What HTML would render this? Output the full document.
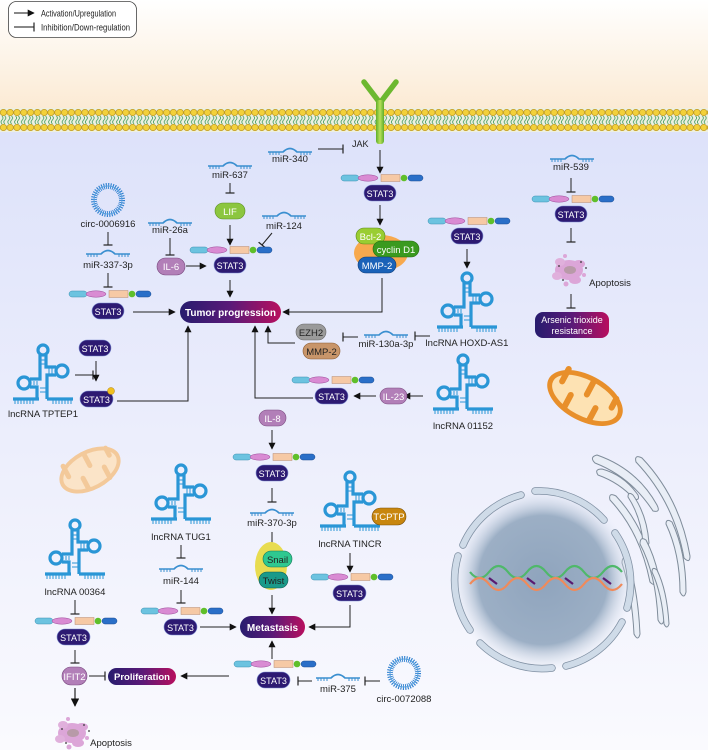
<!DOCTYPE html>
<html><head><meta charset="utf-8"><style>
html,body{margin:0;padding:0;width:708px;height:750px;overflow:hidden;background:#fff}
svg{display:block}
text{font-family:"Liberation Sans",sans-serif;}
</style></head><body>
<svg width="708" height="750" viewBox="0 0 708 750" xmlns="http://www.w3.org/2000/svg">
<defs>
<linearGradient id="bgTop" x1="0" y1="0" x2="0" y2="1"><stop offset="0" stop-color="#ffffff"/><stop offset="1" stop-color="#fbead3"/></linearGradient>
<linearGradient id="bgBot" x1="0" y1="0" x2="0" y2="1"><stop offset="0" stop-color="#dde2fa"/><stop offset="0.5" stop-color="#eceefc"/><stop offset="1" stop-color="#fafafe"/></linearGradient>
<linearGradient id="pg" x1="0" y1="0" x2="1" y2="0"><stop offset="0" stop-color="#271c6e"/><stop offset="0.5" stop-color="#5a1a78"/><stop offset="1" stop-color="#b80f5e"/></linearGradient>
<radialGradient id="nuc" cx="0.5" cy="0.5" r="0.5"><stop offset="0" stop-color="#8fa4bd"/><stop offset="0.7" stop-color="#9cafc5"/><stop offset="1" stop-color="#e6ebf6" stop-opacity="0"/></radialGradient>
<linearGradient id="rec" x1="0" y1="0" x2="1" y2="0"><stop offset="0" stop-color="#5fae2a"/><stop offset="0.5" stop-color="#b8e05a"/><stop offset="1" stop-color="#5fae2a"/></linearGradient>
<pattern id="mem" x="0" y="108" width="6.8" height="24" patternUnits="userSpaceOnUse">
<path d="M2,8 q2,2 0,4 q-2,2 0,4 M4.8,8 q2,2 0,4 q-2,2 0,4" fill="none" stroke="#3d9a5a" stroke-width="0.8"/>
<circle cx="3.4" cy="4.5" r="3.2" fill="#f3d03a" stroke="#b8921a" stroke-width="0.6"/>
<circle cx="3.4" cy="19.5" r="3.2" fill="#f3d03a" stroke="#b8921a" stroke-width="0.6"/>
</pattern>
<marker id="ar" viewBox="0 0 10 10" refX="9" refY="5" markerWidth="7" markerHeight="7" orient="auto"><path d="M0,0 L10,5 L0,10 z" fill="#111"/></marker>
<marker id="inh" viewBox="0 0 4 12" refX="2" refY="6" markerWidth="4" markerHeight="9" orient="auto" markerUnits="userSpaceOnUse"><path d="M2,0 V12" stroke="#222" stroke-width="1.6"/></marker>
<symbol id="rna" viewBox="-32 -2 64 62" overflow="visible">
<g fill="none" stroke="#2a96d6" stroke-width="3.2">
<circle cx="0" cy="4" r="5"/>
<path d="M-3,9 V33 H-13 M-13,41 H-6 V53 M3,9 V21 H13 M13,29 H4 V53"/>
<circle cx="-19" cy="37" r="6"/><circle cx="19" cy="25" r="6"/>
<path d="M-30,53 H-4 M4,53 H30"/>
</g>
<g stroke="#2a96d6" stroke-width="1"><path d="M-28,54 v4 M-25,54 v4 M-22,54 v4 M-19,54 v4 M-16,54 v4 M-13,54 v4 M-10,54 v4 M10,54 v4 M13,54 v4 M16,54 v4 M19,54 v4 M22,54 v4 M25,54 v4 M28,54 v4 M-3,14 h6 M-3,18 h6 M-9,35 v4 M-6,35 v4 M9,22 v6 M6,22 v6 M-3,42 h6 M-3,46 h6"/></g>
</symbol>
<symbol id="mir" viewBox="0 -3 44 10" overflow="visible">
<path d="M0,3 H15 Q22,-4 29,3 H44" fill="none" stroke="#3a8fd0" stroke-width="1.6"/>
<path d="M2,3 v3 M5,3 v3 M8,3 v3 M11,3 v3 M33,3 v3 M36,3 v3 M39,3 v3 M42,3 v3" stroke="#3a8fd0" stroke-width="1"/>
</symbol>
<symbol id="chain" viewBox="0 0 80 8" overflow="visible">
<rect x="0" y="1" width="18" height="6" rx="3" fill="#6cc3e0" stroke="#3a8fb0" stroke-width="0.5"/>
<ellipse cx="27" cy="4" rx="10" ry="3.2" fill="#d98bd3" stroke="#9a4a98" stroke-width="0.5"/>
<rect x="40" y="0.5" width="19" height="7" fill="#f6c9a5" stroke="#b58a70" stroke-width="0.5"/>
<circle cx="63" cy="4" r="3.3" fill="#5fbf2a"/>
<rect x="67" y="1" width="15" height="6" rx="3" fill="#2a6fc8" stroke="#1a4a90" stroke-width="0.5"/>
</symbol>
<symbol id="circ" viewBox="-18 -18 36 36" overflow="visible">
<circle r="14" fill="none" stroke="#2e7fcf" stroke-width="6" stroke-dasharray="1 1.2"/>
<circle r="14" fill="none" stroke="#5aa3e0" stroke-width="1"/>
</symbol>
<g id="apo">
<ellipse cx="0" cy="0" rx="14" ry="10" fill="#dca6d8"/>
<ellipse cx="-9" cy="-8" rx="5" ry="4" fill="#e0b0dc"/><ellipse cx="10" cy="-6" rx="6" ry="4" fill="#dca6d8"/>
<ellipse cx="-12" cy="6" rx="5" ry="4" fill="#e0b0dc"/><ellipse cx="6" cy="10" rx="6" ry="4" fill="#dca6d8"/>
<ellipse cx="1" cy="0" rx="6" ry="4" fill="#b89aa8"/>
<circle cx="-4" cy="-14" r="2" fill="#dca6d8"/><circle cx="15" cy="5" r="2" fill="#dca6d8"/><circle cx="-3" cy="14" r="2.5" fill="#dca6d8"/>
<circle cx="-10" cy="-4" r="0.9" fill="#333"/><circle cx="12" cy="-8" r="0.9" fill="#333"/><circle cx="-6" cy="10" r="0.9" fill="#333"/><circle cx="17" cy="-2" r="0.9" fill="#333"/>
</g>
</defs>

<rect x="0" y="0" width="708" height="110" fill="url(#bgTop)"/>
<rect x="0" y="130" width="708" height="620" fill="url(#bgBot)"/>
<rect x="0" y="108" width="708" height="24" fill="#eef0e0"/>
<rect x="0" y="108" width="708" height="24" fill="url(#mem)"/>

<!-- legend -->
<rect x="8.5" y="1.5" width="128" height="36" rx="8" fill="#fff" stroke="#444" stroke-width="0.8"/>
<line x1="14" y1="13" x2="34" y2="13" stroke="#111" stroke-width="1" marker-end="url(#ar)"/>
<line x1="14" y1="27" x2="34" y2="27" stroke="#111" stroke-width="1" marker-end="url(#inh)"/>
<text x="41" y="16.5" font-size="9.5" fill="#222" textLength="75" lengthAdjust="spacingAndGlyphs">Activation/Upregulation</text>
<text x="41" y="30.5" font-size="9.5" fill="#222" textLength="89" lengthAdjust="spacingAndGlyphs">Inhibition/Down-regulation</text>

<!-- receptor -->
<path d="M364,82 L380,103 L396,82" fill="none" stroke="#6cb830" stroke-width="5.5" stroke-linejoin="round" stroke-linecap="round"/>
<rect x="376" y="100" width="8" height="44" rx="3" fill="url(#rec)"/>
<text x="352" y="147" font-size="9" fill="#222">JAK</text>

<g font-size="9.5" fill="#222" text-anchor="middle">
<!-- miR-340 -->
<use href="#mir" x="268" y="146" width="44" height="10"/>
<text x="290" y="162">miR-340</text>
<line x1="318" y1="149" x2="343" y2="149" stroke="#222" stroke-width="1" marker-end="url(#inh)"/>
<line x1="380" y1="150" x2="380" y2="173" stroke="#222" stroke-width="1" marker-end="url(#ar)"/>
<use href="#chain" x="341" y="174" width="80" height="8"/>

<!-- miR-637 / LIF -->
<use href="#mir" x="208" y="160" width="44" height="10"/>
<text x="230" y="178">miR-637</text>
<line x1="230" y1="183" x2="230" y2="193" stroke="#222" stroke-width="1" marker-end="url(#inh)"/>
<rect x="215" y="203" width="30" height="16" rx="8" fill="#8cc63f" stroke="#5a9020" stroke-width="0.6"/>
<text x="230" y="215" fill="#fff">LIF</text>
<line x1="230" y1="225" x2="230" y2="245" stroke="#222" stroke-width="1" marker-end="url(#ar)"/>
<use href="#mir" x="262" y="210" width="44" height="10"/>
<text x="284" y="229">miR-124</text>
<line x1="272" y1="233" x2="262" y2="245" stroke="#222" stroke-width="1" marker-end="url(#inh)"/>
<use href="#chain" x="190" y="246" width="80" height="8"/>
<rect x="214" y="257" width="32" height="16" rx="8" fill="#2d1a72" stroke="#7a8ad0" stroke-width="0.6"/>
<text x="230" y="269" fill="#fff" font-size="9">STAT3</text>
<line x1="230" y1="280" x2="230" y2="297" stroke="#222" stroke-width="1" marker-end="url(#ar)"/>

<!-- miR-26a / IL-6 -->
<use href="#mir" x="148" y="217" width="44" height="10"/>
<text x="170" y="233">miR-26a</text>
<line x1="170" y1="238" x2="170" y2="255" stroke="#222" stroke-width="1" marker-end="url(#inh)"/>
<rect x="157" y="258" width="28" height="17" rx="8.5" fill="#b27fb8" stroke="#7a4a80" stroke-width="0.6"/>
<text x="171" y="270" fill="#fff">IL-6</text>
<line x1="186" y1="266" x2="206" y2="266" stroke="#222" stroke-width="1" marker-end="url(#ar)"/>

<!-- circ-0006916 -->
<use href="#circ" x="90" y="182" width="36" height="36"/>
<text x="108" y="227">circ-0006916</text>
<line x1="108" y1="232" x2="108" y2="245" stroke="#222" stroke-width="1" marker-end="url(#inh)"/>
<use href="#mir" x="86" y="248" width="44" height="10"/>
<text x="108" y="268">miR-337-3p</text>
<line x1="108" y1="273" x2="108" y2="287" stroke="#222" stroke-width="1" marker-end="url(#inh)"/>
<use href="#chain" x="69" y="290" width="80" height="8"/>
<rect x="92" y="303" width="32" height="16" rx="8" fill="#2d1a72" stroke="#7a8ad0" stroke-width="0.6"/>
<text x="108" y="315" fill="#fff" font-size="9">STAT3</text>
<line x1="133" y1="312" x2="175" y2="312" stroke="#222" stroke-width="1" marker-end="url(#ar)"/>

<!-- Tumor progression -->
<rect x="180" y="301" width="101" height="22" rx="11" fill="url(#pg)"/>
<text x="230.5" y="316" fill="#fff" font-weight="bold" font-size="10">Tumor progression</text>

<!-- JAK STAT3 branch -->
<rect x="364" y="185" width="32" height="16" rx="8" fill="#2d1a72" stroke="#7a8ad0" stroke-width="0.6"/>
<text x="380" y="197" fill="#fff" font-size="9">STAT3</text>
<line x1="380" y1="205" x2="380" y2="225" stroke="#222" stroke-width="1" marker-end="url(#ar)"/>
<ellipse cx="381" cy="253" rx="27" ry="18" fill="#f7a94e"/>
<rect x="356" y="228" width="29" height="16" rx="8" fill="#9acd32" stroke="#5a8a18" stroke-width="0.6"/>
<text x="370.5" y="240" fill="#fff">Bcl-2</text>
<rect x="373" y="241" width="46" height="16" rx="8" fill="#3a9a1f" stroke="#256a10" stroke-width="0.6"/>
<text x="396" y="253" fill="#fff">cyclin D1</text>
<rect x="358" y="257" width="38" height="16" rx="8" fill="#1a62b8" stroke="#0e3c78" stroke-width="0.6"/>
<text x="377" y="269" fill="#fff">MMP-2</text>
<polyline points="382,278 382,312 283,312" fill="none" stroke="#222" stroke-width="1" marker-end="url(#ar)"/>

<!-- HOXD-AS1 -->
<use href="#chain" x="428" y="217" width="80" height="8"/>
<rect x="451" y="228" width="32" height="16" rx="8" fill="#2d1a72" stroke="#7a8ad0" stroke-width="0.6"/>
<text x="467" y="240" fill="#fff" font-size="9">STAT3</text>
<line x1="467" y1="249" x2="467" y2="268" stroke="#222" stroke-width="1" marker-end="url(#ar)"/>
<use href="#rna" x="435" y="272" width="64" height="62"/>
<text x="467" y="346">lncRNA HOXD-AS1</text>
<line x1="430" y1="336" x2="415" y2="336" stroke="#222" stroke-width="1" marker-end="url(#inh)"/>
<use href="#mir" x="364" y="329" width="44" height="10"/>
<text x="386" y="347">miR-130a-3p</text>
<line x1="358" y1="337" x2="343" y2="337" stroke="#222" stroke-width="1" marker-end="url(#inh)"/>
<rect x="296" y="324" width="30" height="16" rx="8" fill="#9a9a9a" stroke="#666" stroke-width="0.6"/>
<text x="311" y="336" fill="#222">EZH2</text>
<rect x="303" y="343" width="37" height="16" rx="8" fill="#c8956a" stroke="#8a5a30" stroke-width="0.6"/>
<text x="321.5" y="355" fill="#222">MMP-2</text>
<polyline points="295,343 268,343 268,326" fill="none" stroke="#222" stroke-width="1" marker-end="url(#ar)"/>

<!-- miR-539 -->
<use href="#mir" x="550" y="153" width="44" height="10"/>
<text x="571" y="170">miR-539</text>
<line x1="571" y1="178" x2="571" y2="192" stroke="#222" stroke-width="1" marker-end="url(#inh)"/>
<use href="#chain" x="532" y="195" width="80" height="8"/>
<rect x="555" y="206" width="32" height="16" rx="8" fill="#2d1a72" stroke="#7a8ad0" stroke-width="0.6"/>
<text x="571" y="218" fill="#fff" font-size="9">STAT3</text>
<line x1="571" y1="228" x2="571" y2="242" stroke="#222" stroke-width="1" marker-end="url(#inh)"/>
<use href="#apo" x="569" y="270"/>
<text x="610" y="286">Apoptosis</text>
<line x1="571" y1="294" x2="571" y2="308" stroke="#222" stroke-width="1" marker-end="url(#inh)"/>
<rect x="535" y="312" width="74" height="26" rx="8" fill="url(#pg)"/>
<text x="572" y="323" fill="#fff" font-size="9">Arsenic trioxide</text>
<text x="572" y="334" fill="#fff" font-size="9">resistance</text>

<!-- mitochondria -->
<g transform="translate(585,398) rotate(28)">
<ellipse rx="41" ry="23" fill="#e88f2a"/>
<ellipse rx="36" ry="18" fill="#fde2b3"/>
<path d="M-28,-18 v14 M-14,18 v-14 M0,-18 v14 M14,18 v-14 M28,-14 v10" stroke="#e88f2a" stroke-width="6" stroke-linecap="round"/>
</g>
<g transform="translate(90,470) rotate(-28)">
<ellipse rx="33" ry="20" fill="#f3c99a"/>
<ellipse rx="29" ry="16" fill="#fbe4c8"/>
<path d="M-22,-16 v12 M-10,16 v-12 M2,-16 v12 M14,16 v-12 M24,-12 v8" stroke="#f3c99a" stroke-width="5" stroke-linecap="round"/>
</g>

<!-- lncRNA 01152 -->
<use href="#rna" x="431" y="354" width="64" height="62"/>
<text x="463" y="429">lncRNA 01152</text>
<line x1="423" y1="396" x2="404" y2="396" stroke="#222" stroke-width="1" marker-end="url(#ar)"/>
<rect x="380" y="388" width="27" height="16" rx="8" fill="#b27fb8" stroke="#7a4a80" stroke-width="0.6"/>
<text x="393.5" y="400" fill="#fff">IL-23</text>
<line x1="376" y1="396" x2="354" y2="396" stroke="#222" stroke-width="1" marker-end="url(#ar)"/>
<use href="#chain" x="292" y="376" width="80" height="8"/>
<rect x="315" y="388" width="33" height="16" rx="8" fill="#2d1a72" stroke="#7a8ad0" stroke-width="0.6"/>
<text x="331.5" y="400" fill="#fff" font-size="9">STAT3</text>
<polyline points="313,398 255,398 255,326" fill="none" stroke="#222" stroke-width="1" marker-end="url(#ar)"/>

<!-- TPTEP1 -->
<use href="#rna" x="11" y="344" width="64" height="62"/>
<text x="43" y="417">lncRNA TPTEP1</text>
<line x1="75" y1="375" x2="93" y2="375" stroke="#222" stroke-width="1" marker-end="url(#inh)"/>
<rect x="79" y="340" width="32" height="16" rx="8" fill="#2d1a72" stroke="#7a8ad0" stroke-width="0.6"/>
<text x="95" y="352" fill="#fff" font-size="9">STAT3</text>
<line x1="96" y1="361" x2="96" y2="381" stroke="#222" stroke-width="1" marker-end="url(#ar)"/>
<rect x="80" y="391" width="33" height="16" rx="8" fill="#2d1a72" stroke="#7a8ad0" stroke-width="0.6"/>
<text x="96.5" y="403" fill="#fff" font-size="9">STAT3</text>
<circle cx="111" cy="391" r="3.5" fill="#f0c020" stroke="#b08010" stroke-width="0.5"/>
<polyline points="117,401 188,401 188,326" fill="none" stroke="#222" stroke-width="1" marker-end="url(#ar)"/>

<!-- IL-8 branch -->
<rect x="259" y="410" width="27" height="16" rx="8" fill="#b27fb8" stroke="#7a4a80" stroke-width="0.6"/>
<text x="272.5" y="422" fill="#fff">IL-8</text>
<line x1="272" y1="430" x2="272" y2="449" stroke="#222" stroke-width="1" marker-end="url(#ar)"/>
<use href="#chain" x="233" y="453" width="80" height="8"/>
<rect x="256" y="465" width="32" height="16" rx="8" fill="#2d1a72" stroke="#7a8ad0" stroke-width="0.6"/>
<text x="272" y="477" fill="#fff" font-size="9">STAT3</text>
<line x1="272" y1="488" x2="272" y2="502" stroke="#222" stroke-width="1" marker-end="url(#inh)"/>
<use href="#mir" x="250" y="507" width="44" height="10"/>
<text x="272" y="526">miR-370-3p</text>
<line x1="272" y1="532" x2="272" y2="546" stroke="#222" stroke-width="1" marker-end="url(#inh)"/>
<ellipse cx="271" cy="566" rx="16" ry="24" fill="#e8dc50"/>
<rect x="263" y="551" width="29" height="16" rx="8" fill="#2ec890" stroke="#15785a" stroke-width="0.6"/>
<text x="277.5" y="563" fill="#222">Snail</text>
<rect x="259" y="572" width="29" height="16" rx="8" fill="#1a9a8a" stroke="#0e5a50" stroke-width="0.6"/>
<text x="273.5" y="584" fill="#222">Twist</text>
<line x1="272" y1="595" x2="272" y2="614" stroke="#222" stroke-width="1" marker-end="url(#ar)"/>
<rect x="240" y="616" width="65" height="22" rx="11" fill="url(#pg)"/>
<text x="272.5" y="631" fill="#fff" font-weight="bold" font-size="10">Metastasis</text>

<!-- TUG1 -->
<use href="#rna" x="149" y="464" width="64" height="62"/>
<text x="181" y="540">lncRNA TUG1</text>
<line x1="181" y1="545" x2="181" y2="558" stroke="#222" stroke-width="1" marker-end="url(#inh)"/>
<use href="#mir" x="159" y="563" width="44" height="10"/>
<text x="181" y="584">miR-144</text>
<line x1="181" y1="590" x2="181" y2="603" stroke="#222" stroke-width="1" marker-end="url(#inh)"/>
<use href="#chain" x="141" y="607" width="80" height="8"/>
<rect x="164" y="619" width="33" height="16" rx="8" fill="#2d1a72" stroke="#7a8ad0" stroke-width="0.6"/>
<text x="180.5" y="631" fill="#fff" font-size="9">STAT3</text>
<line x1="200" y1="627" x2="236" y2="627" stroke="#222" stroke-width="1" marker-end="url(#ar)"/>

<!-- TINCR -->
<use href="#rna" x="318" y="471" width="64" height="62"/>
<rect x="372" y="508" width="34" height="17" rx="8.5" fill="#c8860e" stroke="#7a5008" stroke-width="0.6"/>
<text x="389" y="520" fill="#fff">TCPTP</text>
<text x="350" y="547">lncRNA TINCR</text>
<line x1="350" y1="553" x2="350" y2="572" stroke="#222" stroke-width="1" marker-end="url(#ar)"/>
<use href="#chain" x="311" y="573" width="80" height="8"/>
<rect x="333" y="585" width="33" height="16" rx="8" fill="#2d1a72" stroke="#7a8ad0" stroke-width="0.6"/>
<text x="349.5" y="597" fill="#fff" font-size="9">STAT3</text>
<polyline points="350,605 350,627 309,627" fill="none" stroke="#222" stroke-width="1" marker-end="url(#ar)"/>

<!-- 00364 -->
<use href="#rna" x="43" y="519" width="64" height="62"/>
<text x="75" y="595">lncRNA 00364</text>
<line x1="75" y1="600" x2="75" y2="614" stroke="#222" stroke-width="1" marker-end="url(#inh)"/>
<use href="#chain" x="35" y="617" width="80" height="8"/>
<rect x="57" y="629" width="33" height="16" rx="8" fill="#2d1a72" stroke="#7a8ad0" stroke-width="0.6"/>
<text x="73.5" y="641" fill="#fff" font-size="9">STAT3</text>
<line x1="75" y1="650" x2="75" y2="663" stroke="#222" stroke-width="1" marker-end="url(#inh)"/>
<rect x="62" y="667" width="25" height="18" rx="9" fill="#b27fb8" stroke="#7a4a80" stroke-width="0.6"/>
<text x="74.5" y="680" fill="#fff">IFIT2</text>
<line x1="89" y1="676" x2="105" y2="676" stroke="#222" stroke-width="1" marker-end="url(#inh)"/>
<rect x="108" y="668" width="68" height="17" rx="8.5" fill="url(#pg)"/>
<text x="142" y="680" fill="#fff" font-weight="bold" font-size="9.5">Proliferation</text>
<line x1="229" y1="676" x2="181" y2="676" stroke="#222" stroke-width="1" marker-end="url(#ar)"/>
<line x1="75" y1="688" x2="75" y2="706" stroke="#222" stroke-width="1.2" marker-end="url(#ar)"/>
<use href="#apo" x="72" y="733"/>
<text x="111" y="746">Apoptosis</text>

<!-- bottom STAT3 / miR-375 -->
<use href="#chain" x="234" y="660" width="80" height="8"/>
<rect x="257" y="672" width="33" height="16" rx="8" fill="#2d1a72" stroke="#7a8ad0" stroke-width="0.6"/>
<text x="273.5" y="684" fill="#fff" font-size="9">STAT3</text>
<line x1="272" y1="659" x2="272" y2="641" stroke="#222" stroke-width="1" marker-end="url(#ar)"/>
<line x1="312" y1="681" x2="298" y2="681" stroke="#222" stroke-width="1" marker-end="url(#inh)"/>
<use href="#mir" x="316" y="672" width="44" height="10"/>
<text x="338" y="692">miR-375</text>
<line x1="380" y1="681" x2="365" y2="681" stroke="#222" stroke-width="1" marker-end="url(#inh)"/>
<use href="#circ" x="386" y="655" width="36" height="36"/>
<text x="404" y="702">circ-0072088</text>
</g>

<!-- ER / golgi -->
<g fill="#e9eef6" stroke="#7f8c9a" stroke-width="1">
<path d="M595,463 q-6,-6 2,-8 q40,14 60,50 q4,8 -4,6 q-22,-34 -58,-48z"/>
<path d="M598,475 q-4,-6 4,-6 q22,6 36,26 q2,6 -4,4 q-14,-16 -36,-24z"/>
<path d="M636,462 q-2,-8 6,-4 q38,40 48,98 q0,8 -6,2 q-10,-56 -48,-96z"/>
<path d="M610,500 q-2,-8 6,-4 q30,32 40,84 q0,8 -6,2 q-10,-50 -40,-82z"/>
<path d="M628,497 q0,-6 5,-2 q14,20 16,48 q-2,6 -6,0 q-2,-26 -15,-46z"/>
<path d="M666,524 q0,-6 6,-2 q14,30 14,70 q-2,8 -6,0 q0,-38 -14,-68z"/>
<path d="M640,544 q0,-8 6,-4 q16,30 18,80 q-2,8 -6,0 q-2,-46 -18,-76z"/>
<path d="M622,563 q0,-8 6,-3 q10,30 12,74 q-2,8 -6,0 q-2,-40 -12,-71z"/>
<path d="M652,572 q0,-6 5,-2 q10,20 12,54 q-2,6 -5,0 q-2,-30 -12,-52z"/>
</g>
<!-- nucleus -->
<circle cx="543" cy="580" r="92" fill="url(#nuc)"/>
<g fill="none" stroke="#7f8fa2" stroke-width="7.5" stroke-linecap="round">
<path d="M463,545 A88,88 0 0 1 521,495 M535,491 A88,88 0 0 1 604,520 M615,533 A88,88 0 0 1 627,608 M622,622 A88,88 0 0 1 566,666 M552,668 A88,88 0 0 1 480,643 M470,630 A88,88 0 0 1 458,556"/>
</g>
<g fill="none" stroke="#cfdbe8" stroke-width="6" stroke-linecap="round">
<path d="M463,545 A88,88 0 0 1 521,495 M535,491 A88,88 0 0 1 604,520 M615,533 A88,88 0 0 1 627,608 M622,622 A88,88 0 0 1 566,666 M552,668 A88,88 0 0 1 480,643 M470,630 A88,88 0 0 1 458,556"/>
</g>
<!-- DNA -->
<g fill="none" stroke-width="2.2">
<path d="M470,572 q9.5,12 19,0 q9.5,-12 19,0 q9.5,12 19,0 q9.5,-12 19,0 q9.5,12 19,0 q9.5,-12 19,0 q9.5,12 19,0 q9.5,-12 19,0" stroke="#4fb86a"/>
<path d="M470,584 q9.5,-12 19,0 q9.5,12 19,0 q9.5,-12 19,0 q9.5,12 19,0 q9.5,-12 19,0 q9.5,12 19,0 q9.5,-12 19,0 q9.5,12 19,0" stroke="#f08a5a"/>
<path d="M489,578 l8,6 M527,578 l8,6 M565,578 l8,6 M603,578 l8,6" stroke="#5a1a70"/>
</g>
</svg>
</body></html>
